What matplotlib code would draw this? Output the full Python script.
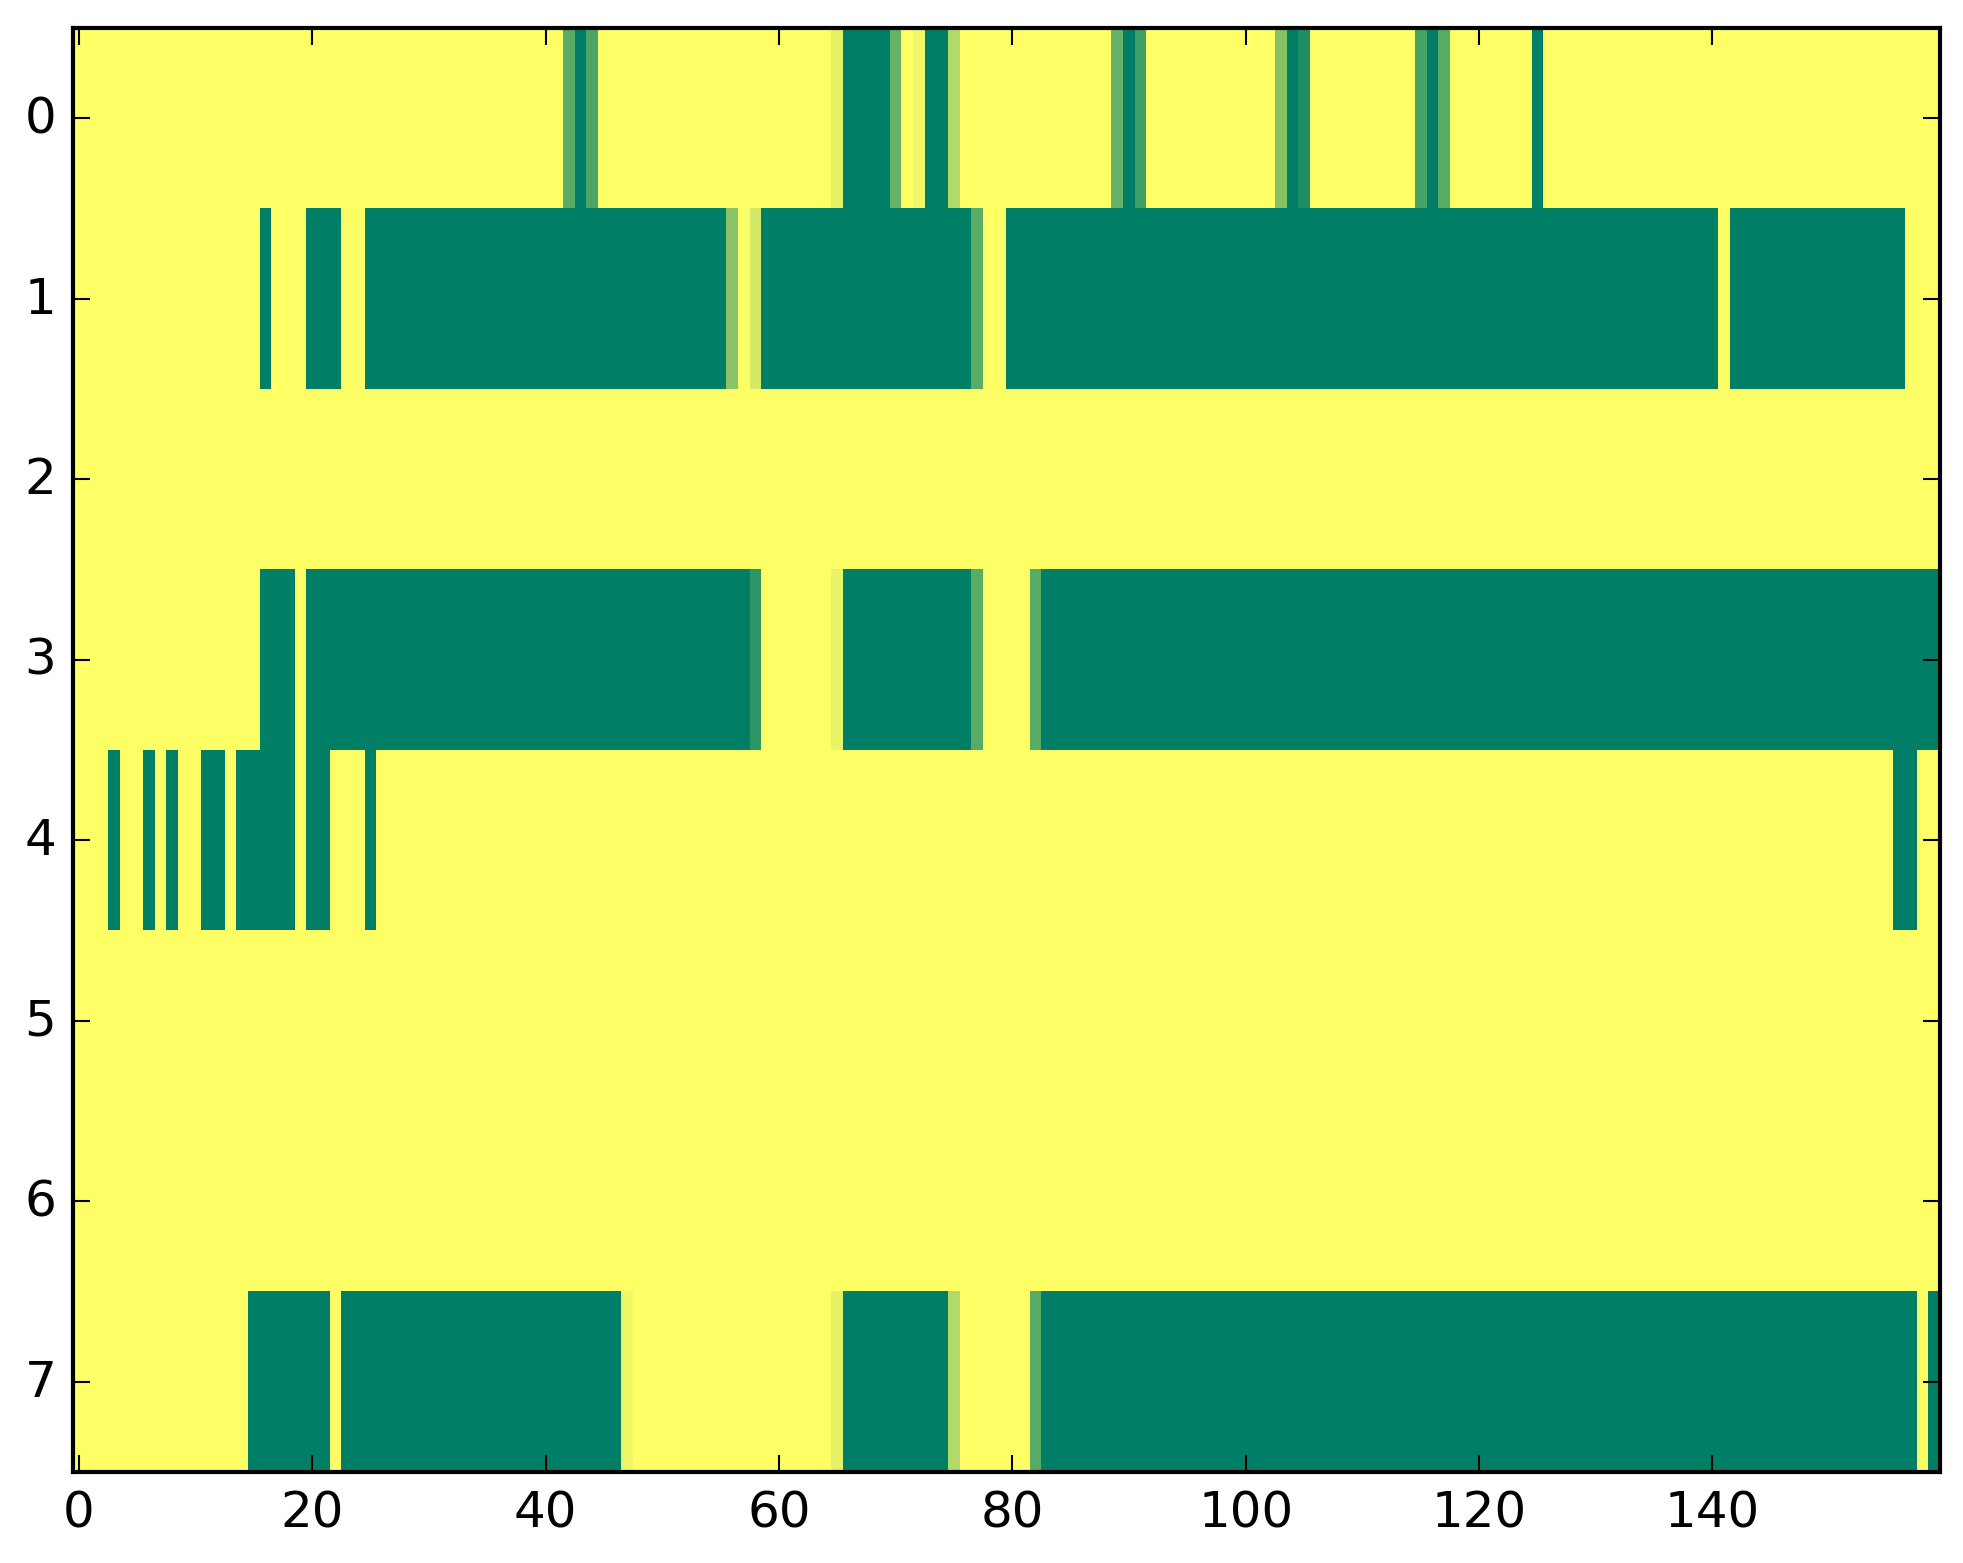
import numpy as np
import matplotlib
matplotlib.use("Agg")
import matplotlib.pyplot as plt

plt.style.use("classic")

n_cols = 160
row_labels = [0, 1, 2, 3, 4, 5, 6, 7]


def runs(spec):
    """spec: list of (first_col, last_col, value); all other columns are 0."""
    r = [0.0] * n_cols
    for a, b, v in spec:
        for c in range(a, b + 1):
            r[c] = v
    return r


row0 = runs([(42, 42, 0.65), (43, 43, 1), (44, 44, 0.70),
             (65, 65, 0.10), (66, 69, 1), (70, 70, 0.60),
             (72, 72, 0.06), (73, 74, 1), (75, 75, 0.30),
             (89, 89, 0.60), (90, 90, 1), (91, 91, 0.76),
             (103, 103, 0.47), (104, 104, 1), (105, 105, 0.88),
             (115, 115, 0.72), (116, 116, 1), (117, 117, 0.65),
             (125, 125, 1)])
row1 = runs([(16, 16, 1), (20, 22, 1), (25, 55, 1), (56, 56, 0.46),
             (58, 58, 0.17), (59, 76, 1), (77, 77, 0.65),
             (80, 140, 1), (142, 156, 1)])
row2 = runs([])
row3 = runs([(16, 18, 1), (20, 57, 1), (58, 58, 0.82), (65, 65, 0.09),
             (66, 76, 1), (77, 77, 0.65), (82, 82, 0.65), (83, 159, 1)])
row4 = runs([(3, 3, 1), (6, 6, 1), (8, 8, 1), (11, 12, 1), (14, 18, 1),
             (20, 21, 1), (25, 25, 1), (156, 157, 1)])
row5 = runs([])
row6 = runs([])
row7 = runs([(15, 21, 1), (23, 46, 1), (47, 47, 0.06), (65, 65, 0.10),
             (66, 74, 1), (75, 75, 0.30), (82, 82, 0.65), (83, 157, 1),
             (159, 159, 1)])

data = np.array([row0, row1, row2, row3, row4, row5, row6, row7])

W, H, DPI = 1963, 1564, 300
fig = plt.figure(figsize=(W / DPI, H / DPI), dpi=DPI, facecolor="white")
ax = fig.add_axes([73 / W, (H - 1473) / H, 1867 / W, 1444 / H])
ax.imshow(data, cmap="summer_r", vmin=0, vmax=1, aspect="auto",
          interpolation="nearest")
ax.set_yticks(row_labels)
ax.set_xticks([0, 20, 40, 60, 80, 100, 120, 140])
ax.set_xlim(-0.5, n_cols - 0.5)
ax.set_ylim(len(row_labels) - 0.5, -0.5)

fig.savefig("out.png", dpi=DPI, facecolor="white")
